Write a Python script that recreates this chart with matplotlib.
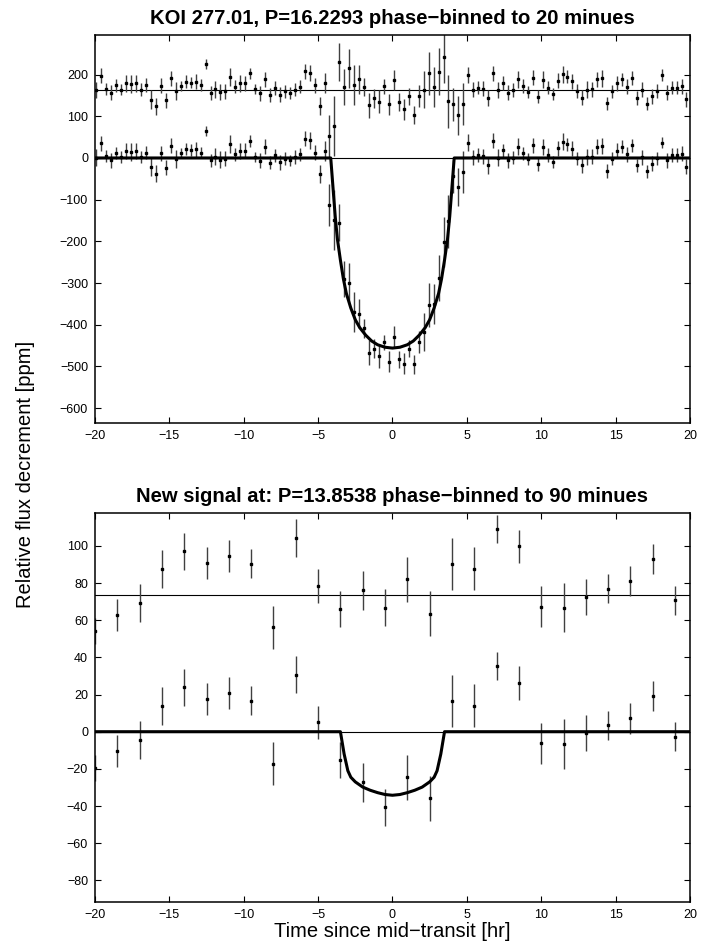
import numpy as np
import matplotlib
matplotlib.use("Agg")
import matplotlib.pyplot as plt

plt.rcParams['font.family'] = ['Liberation Sans', 'DejaVu Sans']

# ---------------------------------------------------------
# DATA
# ---------------------------------------------------------
# KOI 277.01 : 20 minute bins, centres at -19.9 + k/3 hr
KOI_BIN_START = -19.9
KOI_BIN_STEP = 1.0 / 3.0
KOI_OFFSET = 162.0

# binned flux decrement [ppm]
koi_flux = [
    1, 35, 4, -6, 12, 2, 17, 15, 17, 2,
    13, -22, -38, 11, -24, 29, -2, 11, 21, 19,
    21, 13, 64, -6, 3, -4, -2, 33, 9, 17,
    17, 41, 3, -7, 27, -11, 6, -10, -2, -6,
    2, 9, 46, 42, 13, -38, 17, -112, -148, -155,
    -290, -300, -369, -374, -409, -467, -457, -475, -442, -489,
    -429, -483, -493, -457, -495, -441, -417, -353, -350, -288,
    -202, -152, -44, -70, -33, 37, 2, 7, 4, -18,
    41, 1, 18, -6, 1, 27, 11, -3, 31, -15,
    26, 7, -9, 23, 39, 33, 22, -1, -18, 2,
    3, 27, 29, -31, -2, 17, 27, 9, 30, -18,
    2, -32, -14, -1, 37, -5, 7, 7, 10, -21,
]
# residuals after removing the transit model [ppm]
koi_resid = [
    1, 35, 4, -6, 12, 2, 17, 15, 17, 2,
    13, -22, -38, 11, -24, 29, -2, 11, 21, 19,
    21, 13, 64, -6, 3, -4, -2, 33, 9, 17,
    17, 41, 3, -7, 27, -11, 6, -10, -2, -6,
    2, 9, 46, 42, 13, -38, 17, -110, -86, 68,
    9, 53, 13, 27, 9, -35, -19, -27, 10, -33,
    25, -28, -45, -14, -59, -13, 2, 41, 9, 45,
    79, -26, -33, -60, -33, 37, 2, 7, 4, -18,
    41, 1, 18, -6, 1, 27, 11, -3, 31, -15,
    26, 7, -9, 23, 39, 33, 22, -1, -18, 2,
    3, 27, 29, -31, -2, 17, 27, 9, 30, -18,
    2, -32, -14, -1, 37, -5, 7, 7, 10, -21,
]
koi_err = [
    20, 18, 14, 18, 15, 14, 20, 22, 20, 15,
    16, 22, 20, 18, 18, 18, 22, 12, 15, 14,
    18, 14, 12, 16, 20, 20, 18, 22, 16, 20,
    18, 14, 12, 18, 18, 16, 16, 18, 16, 14,
    16, 16, 18, 20, 18, 22, 24, 50, 72, 45,
    43, 47, 48, 35, 22, 30, 22, 28, 18, 25,
    25, 21, 25, 20, 22, 26, 45, 52, 48, 56,
    60, 64, 40, 46, 50, 20, 18, 16, 18, 20,
    18, 20, 16, 18, 16, 20, 16, 14, 18, 16,
    20, 16, 14, 18, 20, 16, 18, 16, 18, 20,
    18, 18, 20, 16, 16, 18, 16, 18, 16, 16,
    18, 16, 18, 16, 14, 18, 16, 16, 18, 18,
]
# transit model curve (knots)
koi_model_t = [-20, -4.15, -4.0, -3.85, -3.7, -3.5, -3.3, -3.1, -2.8, -2.5, -2.2,
               -1.8, -1.4, -1.0, -0.5, 0, 0.5, 1.0, 1.4, 1.8, 2.2, 2.5, 2.8,
               3.1, 3.3, 3.5, 3.7, 3.85, 4.0, 4.15, 20]
koi_model_f = [0, 0, -70, -140, -195, -245, -290, -325, -360, -388, -407,
               -425, -439, -448, -454, -456, -454, -448, -439, -425, -407, -388, -360,
               -325, -290, -245, -195, -140, -70, 0, 0]

# New signal : 90 minute bins
new_time = [-20, -18.5, -17, -15.5, -14, -12.5, -11, -9.5, -8, -6.5, -5, -3.5, -2,
            -0.5, 1, 2.5, 4, 5.5, 7, 8.5, 10, 11.5, 13, 14.5, 16, 17.5, 19]
NEW_OFFSET = 73.5
new_flux = [-19.5, -10.6, -4.5, 14, 23.8, 17.5, 21, 16.6, -17.3, 30.6, 5, -15, -27.2,
            -40.6, -24.5, -35.8, 16.3, 13.9, 35.4, 26.1, -6.3, -6.6, -0.7, 3.4, 7.2, 19.3, -2.7]
new_resid = [-19.5, -10.5, -4.2, 14.1, 23.5, 17.3, 21, 16.8, -17.2, 30.7, 4.8, -7.7, 2.5,
             -6.8, 8.4, -9.9, 16.9, 14.1, 35.5, 26.2, -6.3, -6.8, -0.9, 3.5, 7.5, 19.5, -2.7]
new_err = [7, 8.6, 10.3, 10.3, 9.8, 8.5, 8.7, 7.8, 11.6, 10, 9, 9.7, 10.5,
           10, 12, 12, 14, 11.6, 7.6, 9, 11, 13.3, 9.8, 8, 8.2, 8, 7.8]
new_model_t = [-20, -3.5, -3.25, -3.0, -2.8, -2.5, -2.0, -1.5, -1.0, -0.5, 0,
               0.5, 1.0, 1.5, 2.0, 2.5, 2.8, 3.0, 3.25, 3.5, 20]
new_model_f = [0, 0, -12, -21, -24.5, -27, -29.8, -31.5, -32.8, -33.8, -34.2,
               -33.8, -32.8, -31.5, -29.8, -27, -24.5, -21, -12, 0, 0]


def draw_panel(ax, t, flux, resid, err, offset, mt, mf, title, ylim, yticks):
    """Binned flux (lower), offset residuals (upper) and transit model."""
    t = np.asarray(t)
    resid = np.asarray(resid, dtype=float)
    ax.axhline(0, color='k', lw=0.8, zorder=1)
    ax.axhline(offset, color='k', lw=0.8, zorder=1)
    kw = dict(fmt='s', color='k', ms=1.7, ecolor='0.25', elinewidth=1.0,
              capsize=0, zorder=2)
    ax.errorbar(t, flux, yerr=err, **kw)
    ax.errorbar(t, resid + offset, yerr=err, **kw)
    ax.plot(mt, mf, color='k', lw=2.2, zorder=3)

    ax.set_xlim(-20, 20)
    ax.set_ylim(*ylim)
    ax.set_xticks(np.arange(-20, 21, 5))
    ax.set_yticks(yticks)
    ax.tick_params(direction='in', top=True, right=True, length=4,
                   width=0.8, labelsize=9, pad=5)
    for s in ax.spines.values():
        s.set_linewidth(1.1)
    ax.set_title(title, fontsize=14.6, fontweight='bold', pad=8)


def main():
    fig = plt.figure(figsize=(7.19, 9.48), dpi=100)
    ax1 = fig.add_axes([0.1321, 0.5541, 0.8275, 0.409])
    ax2 = fig.add_axes([0.1321, 0.0488, 0.8275, 0.4097])

    koi_t = KOI_BIN_START + KOI_BIN_STEP * np.arange(len(koi_flux))
    draw_panel(ax1, koi_t, koi_flux, koi_resid, koi_err, KOI_OFFSET,
               koi_model_t, koi_model_f,
               'KOI 277.01, P=16.2293 phase\u2212binned to 20 minues',
               (-635, 295), np.arange(-600, 201, 100))
    draw_panel(ax2, new_time, new_flux, new_resid, new_err, NEW_OFFSET,
               new_model_t, new_model_f,
               'New signal at: P=13.8538 phase\u2212binned to 90 minues',
               (-91.5, 117.5), np.arange(-80, 101, 20))

    ax2.set_xlabel('Time since mid\u2212transit [hr]', fontsize=14.5, labelpad=1)
    fig.text(0.035, 0.5, 'Relative flux decrement [ppm]', rotation=90,
             ha='center', va='center', fontsize=14.5)

    fig.savefig('out.png', dpi=100)
    plt.close(fig)


if __name__ == "__main__":
    main()
